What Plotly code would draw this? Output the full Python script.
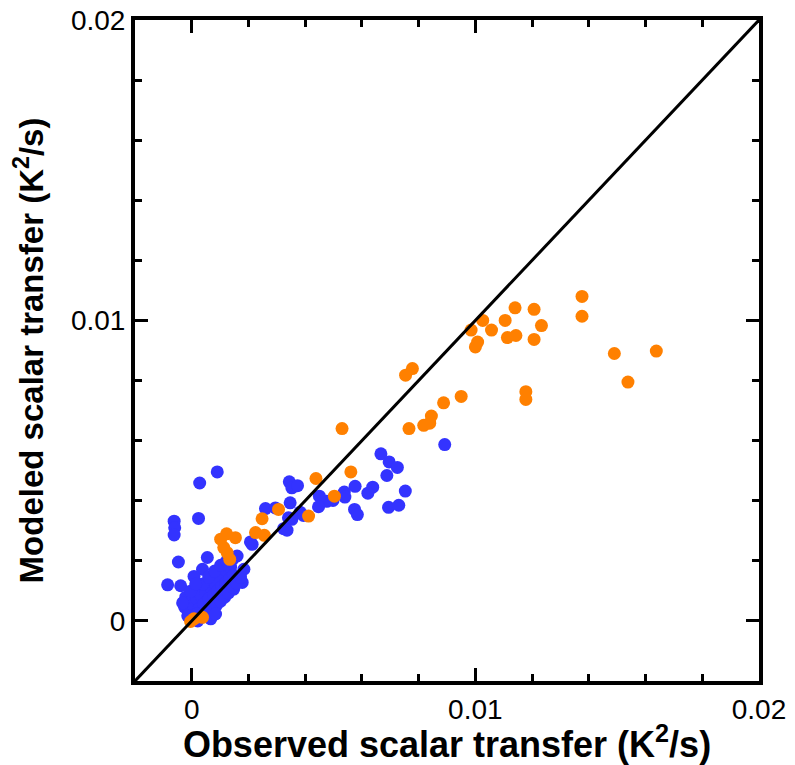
import plotly.graph_objects as go

# Blue series (observed, modeled) in K^2/s
blue_x = [0.00892, 0.00667, 0.00696, 0.00725, 0.00688, 0.00753, 0.00638, 0.00621, 0.00576, 0.00538,
          0.00540, 0.00498, 0.00476, 0.00450, 0.00447, 0.00574, 0.00584, 0.00694, 0.00730, 0.00344,
          0.00353, 0.00373, 0.00347, 0.00260, 0.00295, 0.00382, 0.00394, 0.00341, 0.00353, 0.00324,
          0.00336, 0.00213, 0.00207, 0.00090, 0.00028, -0.00062, -0.00060, -0.00062, 0.00024, -0.00047,
          -0.00085, -0.00039, 0.00055, 0.00038, 0.00008, 0.00014, 0.00160, 0.00184, 0.00178, 0.00148,
          0.00096, 0.00073,
          -0.00021, -0.00004, -0.00025, -0.00011, 0.00004, 0.00018, 0.00032, 0.00049, 0.00067, 0.00081,
          0.00095, 0.00109, 0.00123, 0.00137, 0.00025, 0.00042, 0.00060, 0.00077, 0.00091, 0.00105,
          0.00119, 0.00133, 0.00147, 0.00018, 0.00035, 0.00053, 0.00070, 0.00088, 0.00102, 0.00116,
          0.00130, 0.00144, 0.00158, 0.00172, -0.00014, 0.00004, 0.00021, 0.00067, 0.00084, 0.00039,
          0.00060, 0.00081, 0.00102, 0.00123, 0.00144, -0.00004, 0.00014, -0.00032]
blue_y = [0.00587, 0.00556, 0.00529, 0.00511, 0.00484, 0.00432, 0.00445, 0.00425, 0.00448, 0.00429,
          0.00412, 0.00401, 0.00398, 0.00415, 0.00380, 0.00371, 0.00354, 0.00378, 0.00385, 0.00463,
          0.00443, 0.00450, 0.00393, 0.00374, 0.00376, 0.00362, 0.00351, 0.00343, 0.00338, 0.00307,
          0.00302, 0.00255, 0.00263, 0.00496, 0.00459, 0.00332, 0.00310, 0.00286, 0.00341, 0.00196,
          0.00120, 0.00117, 0.00211, 0.00172, 0.00148, 0.00108, 0.00216, 0.00172, 0.00128, 0.00106,
          0.00084, 0.00029,
          0.00079, 0.00063, 0.00046, 0.00033, 0.00053, 0.00073, 0.00086, 0.00099, 0.00113, 0.00126,
          0.00139, 0.00152, 0.00166, 0.00179, 0.00040, 0.00056, 0.00073, 0.00086, 0.00099, 0.00113,
          0.00126, 0.00139, 0.00152, 0.00023, 0.00013, 0.00026, 0.00040, 0.00053, 0.00066, 0.00079,
          0.00093, 0.00113, 0.00126, 0.00146, 0.00017, 0.00007, 0.00000, 0.00007, 0.00023, 0.00123,
          0.00146, 0.00166, 0.00185, 0.00199, 0.00205, 0.00099, 0.00123, 0.00060]

# Orange series (observed, modeled) in K^2/s
orange_x = [0.01376, 0.01376, 0.01638, 0.01490, 0.01538, 0.01178, 0.01178, 0.00950, 0.00985, 0.01026,
            0.01057, 0.01008, 0.01000, 0.01105, 0.01140, 0.01207, 0.01233, 0.01207, 0.01113, 0.01143,
            0.00778, 0.00754, 0.00888, 0.00845, 0.00839, 0.00818, 0.00766, 0.00530, 0.00561, 0.00438,
            0.00503, 0.00412, 0.00306, 0.00248, 0.00225, 0.00256, 0.00123, 0.00102, 0.00154, 0.00113,
            0.00125, 0.00134, 0.00008, 0.00038, -0.00004]
orange_y = [0.01080, 0.01014, 0.00898, 0.00890, 0.00795, 0.00763, 0.00737, 0.00747, 0.00968, 0.01000,
            0.00968, 0.00928, 0.00912, 0.01000, 0.01042, 0.01037, 0.00983, 0.00937, 0.00943, 0.00950,
            0.00840, 0.00818, 0.00726, 0.00682, 0.00658, 0.00651, 0.00640, 0.00640, 0.00496, 0.00474,
            0.00415, 0.00349, 0.00371, 0.00340, 0.00294, 0.00285, 0.00290, 0.00272, 0.00277, 0.00244,
            0.00227, 0.00205, 0.00007, 0.00012, -0.00002]

# 1:1 reference line endpoints
one_to_one = [-0.002, 0.02]

axis_range = [-0.002, 0.02]
tick_vals = [0, 0.01, 0.02]
tick_text = ["0", "0.01", "0.02"]

font_family = "Arial, Liberation Sans, Helvetica, sans-serif"

fig = go.Figure()
fig.add_trace(go.Scatter(x=blue_x, y=blue_y, mode="markers",
                         marker=dict(color="#3333FF", size=13), cliponaxis=False, showlegend=False))
fig.add_trace(go.Scatter(x=orange_x, y=orange_y, mode="markers",
                         marker=dict(color="#FF8000", size=13), cliponaxis=False, showlegend=False))
fig.add_trace(go.Scatter(x=one_to_one, y=one_to_one, mode="lines",
                         line=dict(color="black", width=3), showlegend=False))

axis_common = dict(
    range=axis_range,
    tickvals=tick_vals,
    ticktext=tick_text,
    ticks="inside",
    ticklen=13,
    tickwidth=3,
    tickcolor="black",
    showline=True,
    linewidth=4,
    linecolor="black",
    mirror="ticks",
    showgrid=False,
    zeroline=False,
    automargin=False,
    tickfont=dict(family=font_family, size=28, color="black"),
    minor=dict(tick0=0, dtick=0.002, ticks="inside", ticklen=7, tickwidth=3,
               tickcolor="black", showgrid=False),
)

fig.update_xaxes(**axis_common,
                 title=dict(text="Observed scalar transfer (K<sup>2</sup>/s)",
                            font=dict(family=font_family, size=36, color="black", weight="bold"),
                            standoff=3))
fig.update_yaxes(**axis_common,
                 title=dict(text="Modeled scalar transfer (K<sup>2</sup>/s)",
                            font=dict(family=font_family, size=33, color="black", weight="bold"),
                            standoff=18))

fig.update_layout(
    width=795, height=765,
    margin=dict(l=135, r=36, t=20, b=84),
    paper_bgcolor="white",
    plot_bgcolor="white",
    font=dict(family=font_family, color="black"),
)

fig.write_html("out.html",
               config={"displayModeBar": False},
               post_script="document.body.style.margin='0px';document.body.style.overflow='hidden';")
